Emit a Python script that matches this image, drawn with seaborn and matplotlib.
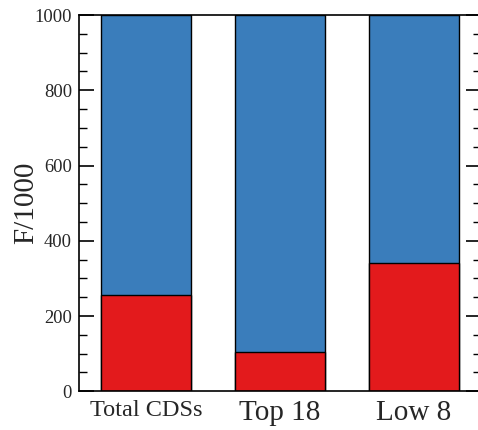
import pandas as pd
import matplotlib
matplotlib.use("Agg")
import matplotlib.pyplot as plt
import seaborn as sns
from matplotlib.ticker import MultipleLocator

# data
categories = ["Total CDSs", "Top 18", "Low 8"]
total_vals = [1000, 1000, 1000]
red_vals = [256, 104, 340]
label_sizes = [17.5, 21, 21]

df = pd.DataFrame({"group": categories, "total": total_vals, "red": red_vals})

sns.set_style("white")
plt.rcParams["font.family"] = ["Liberation Serif", "DejaVu Serif"]

fig = plt.figure(figsize=(4.78, 4.30), dpi=100)
ax = fig.add_axes([79 / 478, (430 - 391.3) / 430, (481 - 79) / 478, (391.3 - 15) / 430])

# blue full bars, then red part on top
sns.barplot(data=df, x="group", y="total", color="#3a7dbb", width=0.67,
            edgecolor="black", linewidth=1.0, saturation=1, ax=ax)
sns.barplot(data=df, x="group", y="red", color="#e31a1c", width=0.67,
            edgecolor="black", linewidth=1.0, saturation=1, ax=ax)

ax.set_xlim(-0.5, 2.5)
ax.set_ylim(0, 1000)
ax.yaxis.set_major_locator(MultipleLocator(200))
ax.yaxis.set_minor_locator(MultipleLocator(50))
ax.tick_params(axis="y", which="both", direction="in", left=True, right=True,
               labelsize=13.3, pad=5, color="black")
ax.tick_params(axis="y", which="major", length=11, width=1.2)
ax.tick_params(axis="y", which="minor", length=5.5, width=1.0)
ax.tick_params(axis="x", length=0, pad=6)

for lbl, size in zip(ax.get_xticklabels(), label_sizes):
    lbl.set_fontsize(size)

ax.set_xlabel("")
ax.set_ylabel("F/1000", fontsize=21, labelpad=-3)

for side in ["left", "right", "top", "bottom"]:
    ax.spines[side].set_visible(True)
    ax.spines[side].set_color("black")
    ax.spines[side].set_linewidth(1.2)

fig.savefig("out.png", dpi=100)
